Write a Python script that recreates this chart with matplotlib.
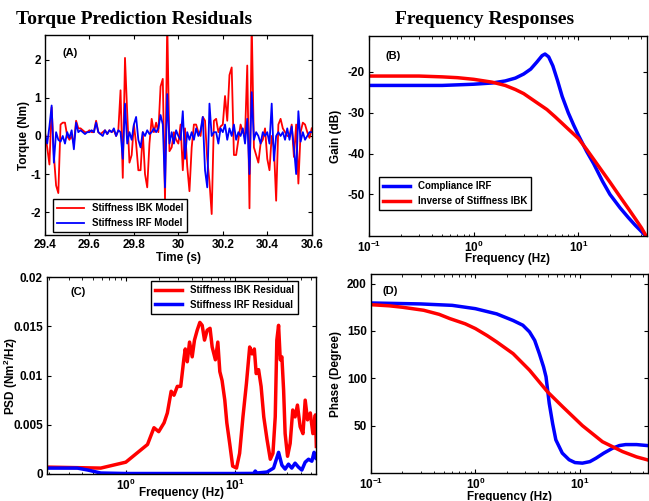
import numpy as np
import matplotlib
matplotlib.use('Agg')
import matplotlib.pyplot as plt
from matplotlib.ticker import LogLocator, NullFormatter

plt.rcParams['font.family'] = ['Liberation Sans', 'DejaVu Sans']
plt.rcParams['font.weight'] = 'bold'
plt.rcParams['axes.labelweight'] = 'bold'
plt.rcParams['axes.unicode_minus'] = False
plt.rcParams['mathtext.fontset'] = 'custom'
plt.rcParams['mathtext.rm'] = 'Liberation Sans:bold'
plt.rcParams['mathtext.it'] = 'Liberation Sans:bold'
plt.rcParams['mathtext.bf'] = 'Liberation Sans:bold'
plt.rcParams['xtick.direction'] = 'in'
plt.rcParams['ytick.direction'] = 'in'
plt.rcParams['xtick.top'] = True
plt.rcParams['ytick.right'] = True

# ---- (A) torque residuals, 29.40 .. 30.60 s every 10 ms
t_start = 29.40
t_step = 0.01
ibk_torque = [0.1, -0.3, -0.75, 0.75, -0.5, -1.3, -1.5, 0.3, 0.35, 0.35,
              0.0, -0.1, 0.0, -0.2, 0.4, 0.2, 0.2, 0.15, 0.1, 0.1,
              0.15, 0.1, 0.1, 0.4, 0.1, 0.05, 0.1, 0.15, 0.05, 0.15,
              0.1, 0.15, 0.0, 0.15, 1.2, -1.1, 2.05, 0.6, -0.7, -0.5,
              0.3, -0.2, -0.9, -0.9, 0.1, -1.0, -1.35, -0.2, 0.45, 0.1,
              0.35, 0.1, 1.3, 1.5, -1.7, 3.0, -0.4, -0.3, 0.1, -0.1,
              -0.2, 0.3, -0.9, 0.2, -0.8, -1.45, -0.3, 0.3, 0.3, 0.1,
              0.0, 0.5, 0.4, -0.6, -1.2, -2.05, 0.4, 0.45, 0.1, 0.25,
              0.3, 1.05, 0.4, 1.6, 1.8, -0.5, -0.5, -0.1, 0.3, 0.1,
              0.0, 1.85, -1.9, 3.0, -0.3, -0.5, -0.7, -0.2, -0.1, 0.2,
              -0.6, -0.9, 0.0, -0.3, -1.7, 0.3, 0.45, 0.2, 0.1, 0.0,
              0.0, 0.3, -0.55, 0.3, -1.25, 0.1, 0.35, 0.3, 0.1, -0.05,
              0.2]
irf_torque = [0.05, -0.2, 0.25, 0.8, -0.7, 0.1, -0.1, -0.15, 0.0, -0.2,
              0.1, -0.05, 0.15, -0.35, 0.35, 0.1, 0.15, 0.1, 0.05, 0.1,
              0.1, 0.15, 0.1, 0.35, 0.1, 0.05, 0.0, 0.15, 0.05, 0.15,
              0.1, 0.2, 0.0, 0.15, 0.1, -0.6, 0.85, -0.2, 0.1, -0.1,
              0.3, 0.5, -0.1, -0.3, 0.1, 0.0, 0.15, 0.05, 0.1, 0.2,
              0.1, 0.2, 0.55, 0.3, -1.35, 1.1, -0.2, 0.1, -0.2, 0.15,
              0.0, -0.1, 0.65, -0.6, 0.1, -0.1, 0.1, -0.1, 0.2, 0.0,
              0.15, 0.5, -0.9, -1.35, 0.85, 0.0, 0.1, 0.1, -0.2, 0.2,
              0.1, 0.3, -0.1, 0.2, 0.0, 0.3, -0.1, 0.1, 0.0, 0.2,
              -0.2, 0.45, -1.0, 1.15, -0.1, 0.1, 0.0, -0.2, 0.1, 0.0,
              0.1, -0.2, 0.85, -0.65, 0.0, 0.1, 0.0, 0.1, -0.1, 0.2,
              -0.1, 0.25, -0.3, -1.0, 0.65, -0.15, 0.1, -0.1, 0.0, 0.1,
              0.1]

# ---- (B) gain
f_irf_gain = [0.1, 0.5, 0.8, 1, 1.5, 2, 2.5, 3, 3.5, 4, 4.5, 4.8, 5.2, 5.7,
              6.3, 7, 8, 9, 10, 12, 14, 17, 20, 25, 30, 35, 40, 45]
irf_gain = [-23.3, -23.3, -23.1, -23.0, -22.7, -22.2, -21.5, -20.5, -19.3, -17.6,
            -16.0, -15.6, -16.3, -18.5, -22.0, -26.0, -30.0, -33.0, -35.5, -39.5,
            -42.5, -46.8, -50.0, -53.3, -55.7, -57.6, -59.1, -60.5]
f_ibk_gain = [0.1, 0.3, 0.5, 0.7, 1, 1.5, 2, 2.5, 3, 4, 5, 6, 7, 8, 10, 12,
              15, 20, 25, 30, 35, 40, 45]
ibk_gain = [-21.0, -21.0, -21.2, -21.4, -21.8, -22.5, -23.3, -24.3, -25.3, -27.5,
            -29.2, -31.0, -32.6, -34.0, -36.3, -39.0, -42.5, -47.0, -50.6, -53.5,
            -56.0, -58.2, -60.5]

# ---- (C) PSD of residuals
f_ibk_psd = [0.19, 0.59, 1.0, 1.58, 1.81, 2.0, 2.24, 2.4, 2.6, 2.76, 2.96, 3.18,
             3.4, 3.5, 3.65, 3.83, 4.05, 4.25, 4.5, 4.76, 5.0, 5.25, 5.55, 5.9,
             6.17, 6.6, 6.95, 7.25, 7.6, 8.05, 8.4, 8.95, 9.5, 10.3, 11.0, 11.8,
             12.7, 13.6, 14.3, 15.0, 15.6, 16.4, 17.3, 18.3, 19.6, 21.0, 22.2,
             23.3, 24.1, 25.0, 25.9, 26.8, 27.8, 28.7, 30.2, 31.9, 33.7, 35.4,
             37.2, 39.4, 41.8, 43.8, 46.0, 48.8, 51.5, 54.3, 55.4]
ibk_psd = [0.0007, 0.0006, 0.0012, 0.003, 0.0047, 0.0043, 0.0052, 0.0062, 0.0084,
           0.008, 0.0089, 0.0089, 0.0117, 0.0127, 0.0114, 0.0134, 0.0119, 0.0136,
           0.0146, 0.0154, 0.0151, 0.0136, 0.0146, 0.0148, 0.0129, 0.0116, 0.0134,
           0.0104, 0.0095, 0.0075, 0.0052, 0.003, 0.0008, 0.0006, 0.0021, 0.0058,
           0.0092, 0.0129, 0.0122, 0.0127, 0.0102, 0.0106, 0.0089, 0.0058, 0.0035,
           0.0015, 0.0021, 0.0058, 0.0136, 0.0151, 0.0116, 0.0119, 0.0085, 0.0041,
           0.0018, 0.0031, 0.0065, 0.0058, 0.007, 0.0048, 0.0041, 0.0075, 0.0055,
           0.0062, 0.0041, 0.006, 0.0028]
f_irf_psd = [0.19, 0.36, 0.45, 0.59, 1.0, 4.8, 9.7, 14.8, 15.3, 15.8, 19.6, 22.5,
             25.0, 26.8, 28.7, 30.8, 33.0, 35.4, 38.0, 40.8, 43.8, 47.0, 50.4,
             52.8, 55.0]
irf_psd = [0.0006, 0.0006, 0.0004, 0.0001, 0.00005, 0.00005, 0.00005, 0.00006,
           0.0003, 0.0001, 0.0002, 0.0006, 0.0022, 0.0009, 0.0005, 0.001, 0.0006,
           0.0011, 0.0007, 0.0004, 0.0012, 0.0015, 0.0013, 0.0022, 0.0016]

# ---- (D) phase
f_irf_phase = [0.1, 0.3, 0.6, 1.0, 1.6, 2.3, 2.85, 3.3, 3.7, 4.1, 4.5, 4.75, 5.1,
               5.5, 5.9, 6.8, 7.9, 9.0, 10.6, 12.5, 14.3, 17, 20.5, 24, 27.5, 35, 44]
irf_phase = [179.5, 178.5, 177, 173.5, 168, 161, 156, 149, 140, 126, 112, 101.6,
             73.5, 52, 35, 21, 14, 11, 10.4, 12, 15.6, 21, 26, 29, 30, 30, 29]
f_ibk_phase = [0.1, 0.15, 0.2, 0.32, 0.45, 0.57, 0.8, 1.0, 1.3, 1.6, 2.3, 3.3,
               4.9, 6.85, 10.6, 16.5, 25.7, 35, 44]
ibk_phase = [177.7, 176.5, 175, 171.8, 167.5, 163, 157.5, 152.5, 145, 138.4, 126,
             108.6, 85.8, 70, 50, 33, 22.6, 17, 14]

time = t_start + t_step * np.arange(len(ibk_torque))

fig = plt.figure(figsize=(6.49, 5.01), dpi=100)
axA = fig.add_axes([0.0693, 0.531, 0.411, 0.399])
axB = fig.add_axes([0.5686, 0.529, 0.428, 0.399])
axC = fig.add_axes([0.0724, 0.0539, 0.4145, 0.393])
axD = fig.add_axes([0.5716, 0.0559, 0.4268, 0.397])

fig.text(0.207, 0.962, 'Torque Prediction Residuals', family='Liberation Serif',
         weight='bold', fontsize=14, ha='center', va='center')
fig.text(0.747, 0.962, 'Frequency Responses', family='Liberation Serif',
         weight='bold', fontsize=14, ha='center', va='center')

tick_fs = 8.5
lab_fs = 8.5
leg_fs = 7

for ax in (axA, axB, axC, axD):
    ax.tick_params(labelsize=tick_fs, pad=3, length=3, width=0.8)
    ax.tick_params(which='minor', length=1.8, width=0.6)
    for s in ax.spines.values():
        s.set_linewidth(1.0)

# A
axA.plot(time, ibk_torque, color='red', lw=1.3, label='Stiffness IBK Model')
axA.plot(time, irf_torque, color='blue', lw=1.3, label='Stiffness IRF Model')
axA.set_xlim(29.4, 30.6)
axA.set_ylim(-2.6, 2.65)
axA.set_xticks(np.arange(29.4, 30.61, 0.2))
axA.set_xticklabels(['29.4', '29.6', '29.8', '30', '30.2', '30.4', '30.6'])
axA.set_yticks([-2, -1, 0, 1, 2])
axA.set_xlabel('Time (s)', fontsize=lab_fs)
axA.set_ylabel('Torque (Nm)', fontsize=lab_fs)
axA.xaxis.set_label_coords(0.5, -0.085)
axA.yaxis.set_label_coords(-0.056, 0.5)
axA.text(0.067, 0.91, '(A)', transform=axA.transAxes, fontsize=8, va='center')
axA.legend(loc='lower left', bbox_to_anchor=(0.03, 0.015), fontsize=leg_fs,
           fancybox=False, edgecolor='black', framealpha=1, borderaxespad=0,
           handlelength=2.8, borderpad=0.4, labelspacing=0.5)

# B
axB.semilogx(f_irf_gain, irf_gain, color='blue', lw=2.5, label='Compliance IRF')
axB.semilogx(f_ibk_gain, ibk_gain, color='red', lw=2.5, label='Inverse of Stiffness IBK')
axB.set_xlim(0.1, 45)
axB.set_ylim(-60.2, -11.2)
axB.set_yticks([-50, -40, -30, -20])
axB.set_xlabel('Frequency (Hz)', fontsize=lab_fs)
axB.set_ylabel('Gain (dB)', fontsize=lab_fs)
axB.xaxis.set_label_coords(0.5, -0.085)
axB.yaxis.set_label_coords(-0.097, 0.5)
axB.text(0.058, 0.90, '(B)', transform=axB.transAxes, fontsize=8, va='center')
axB.legend(loc='lower left', bbox_to_anchor=(0.036, 0.13), fontsize=leg_fs,
           fancybox=False, edgecolor='black', framealpha=1, borderaxespad=0,
           handlelength=2.8, borderpad=0.4, labelspacing=0.5)

# C
axC.semilogx(f_ibk_psd, ibk_psd, color='red', lw=2.5, label='Stiffness IBK Residual')
axC.semilogx(f_irf_psd, irf_psd, color='blue', lw=2.5, label='Stiffness IRF Residual')
axC.set_xlim(0.19, 55)
axC.set_ylim(0, 0.02)
axC.set_yticks([0, 0.005, 0.01, 0.015, 0.02])
axC.set_yticklabels(['0', '0.005', '0.01', '0.015', '0.02'])
axC.set_xlabel('Frequency (Hz)', fontsize=lab_fs)
axC.set_ylabel('PSD (Nm$^2$/Hz)', fontsize=lab_fs)
axC.xaxis.set_label_coords(0.5, -0.066)
axC.yaxis.set_label_coords(-0.10, 0.5)
axC.text(0.086, 0.924, '(C)', transform=axC.transAxes, fontsize=8, va='center')
axC.legend(loc='upper right', bbox_to_anchor=(0.933, 0.98), fontsize=leg_fs,
           fancybox=False, edgecolor='black', framealpha=1, borderaxespad=0,
           handlelength=2.8, borderpad=0.4, labelspacing=0.5)

# D
axD.semilogx(f_irf_phase, irf_phase, color='blue', lw=2.5)
axD.semilogx(f_ibk_phase, ibk_phase, color='red', lw=2.5)
axD.set_xlim(0.1, 45)
axD.set_ylim(0, 210)
axD.set_yticks([50, 100, 150, 200])
axD.set_xlabel('Frequency (Hz)', fontsize=lab_fs)
axD.set_ylabel('Phase (Degree)', fontsize=lab_fs)
axD.xaxis.set_label_coords(0.5, -0.09)
axD.yaxis.set_label_coords(-0.105, 0.5)
axD.text(0.04, 0.915, '(D)', transform=axD.transAxes, fontsize=8, va='center')

for ax in (axB, axC, axD):
    ax.xaxis.set_major_locator(LogLocator(base=10))
    ax.xaxis.set_minor_locator(LogLocator(base=10, subs=np.arange(2, 10)))
    ax.xaxis.set_minor_formatter(NullFormatter())

fig.savefig('out.png', dpi=100)
